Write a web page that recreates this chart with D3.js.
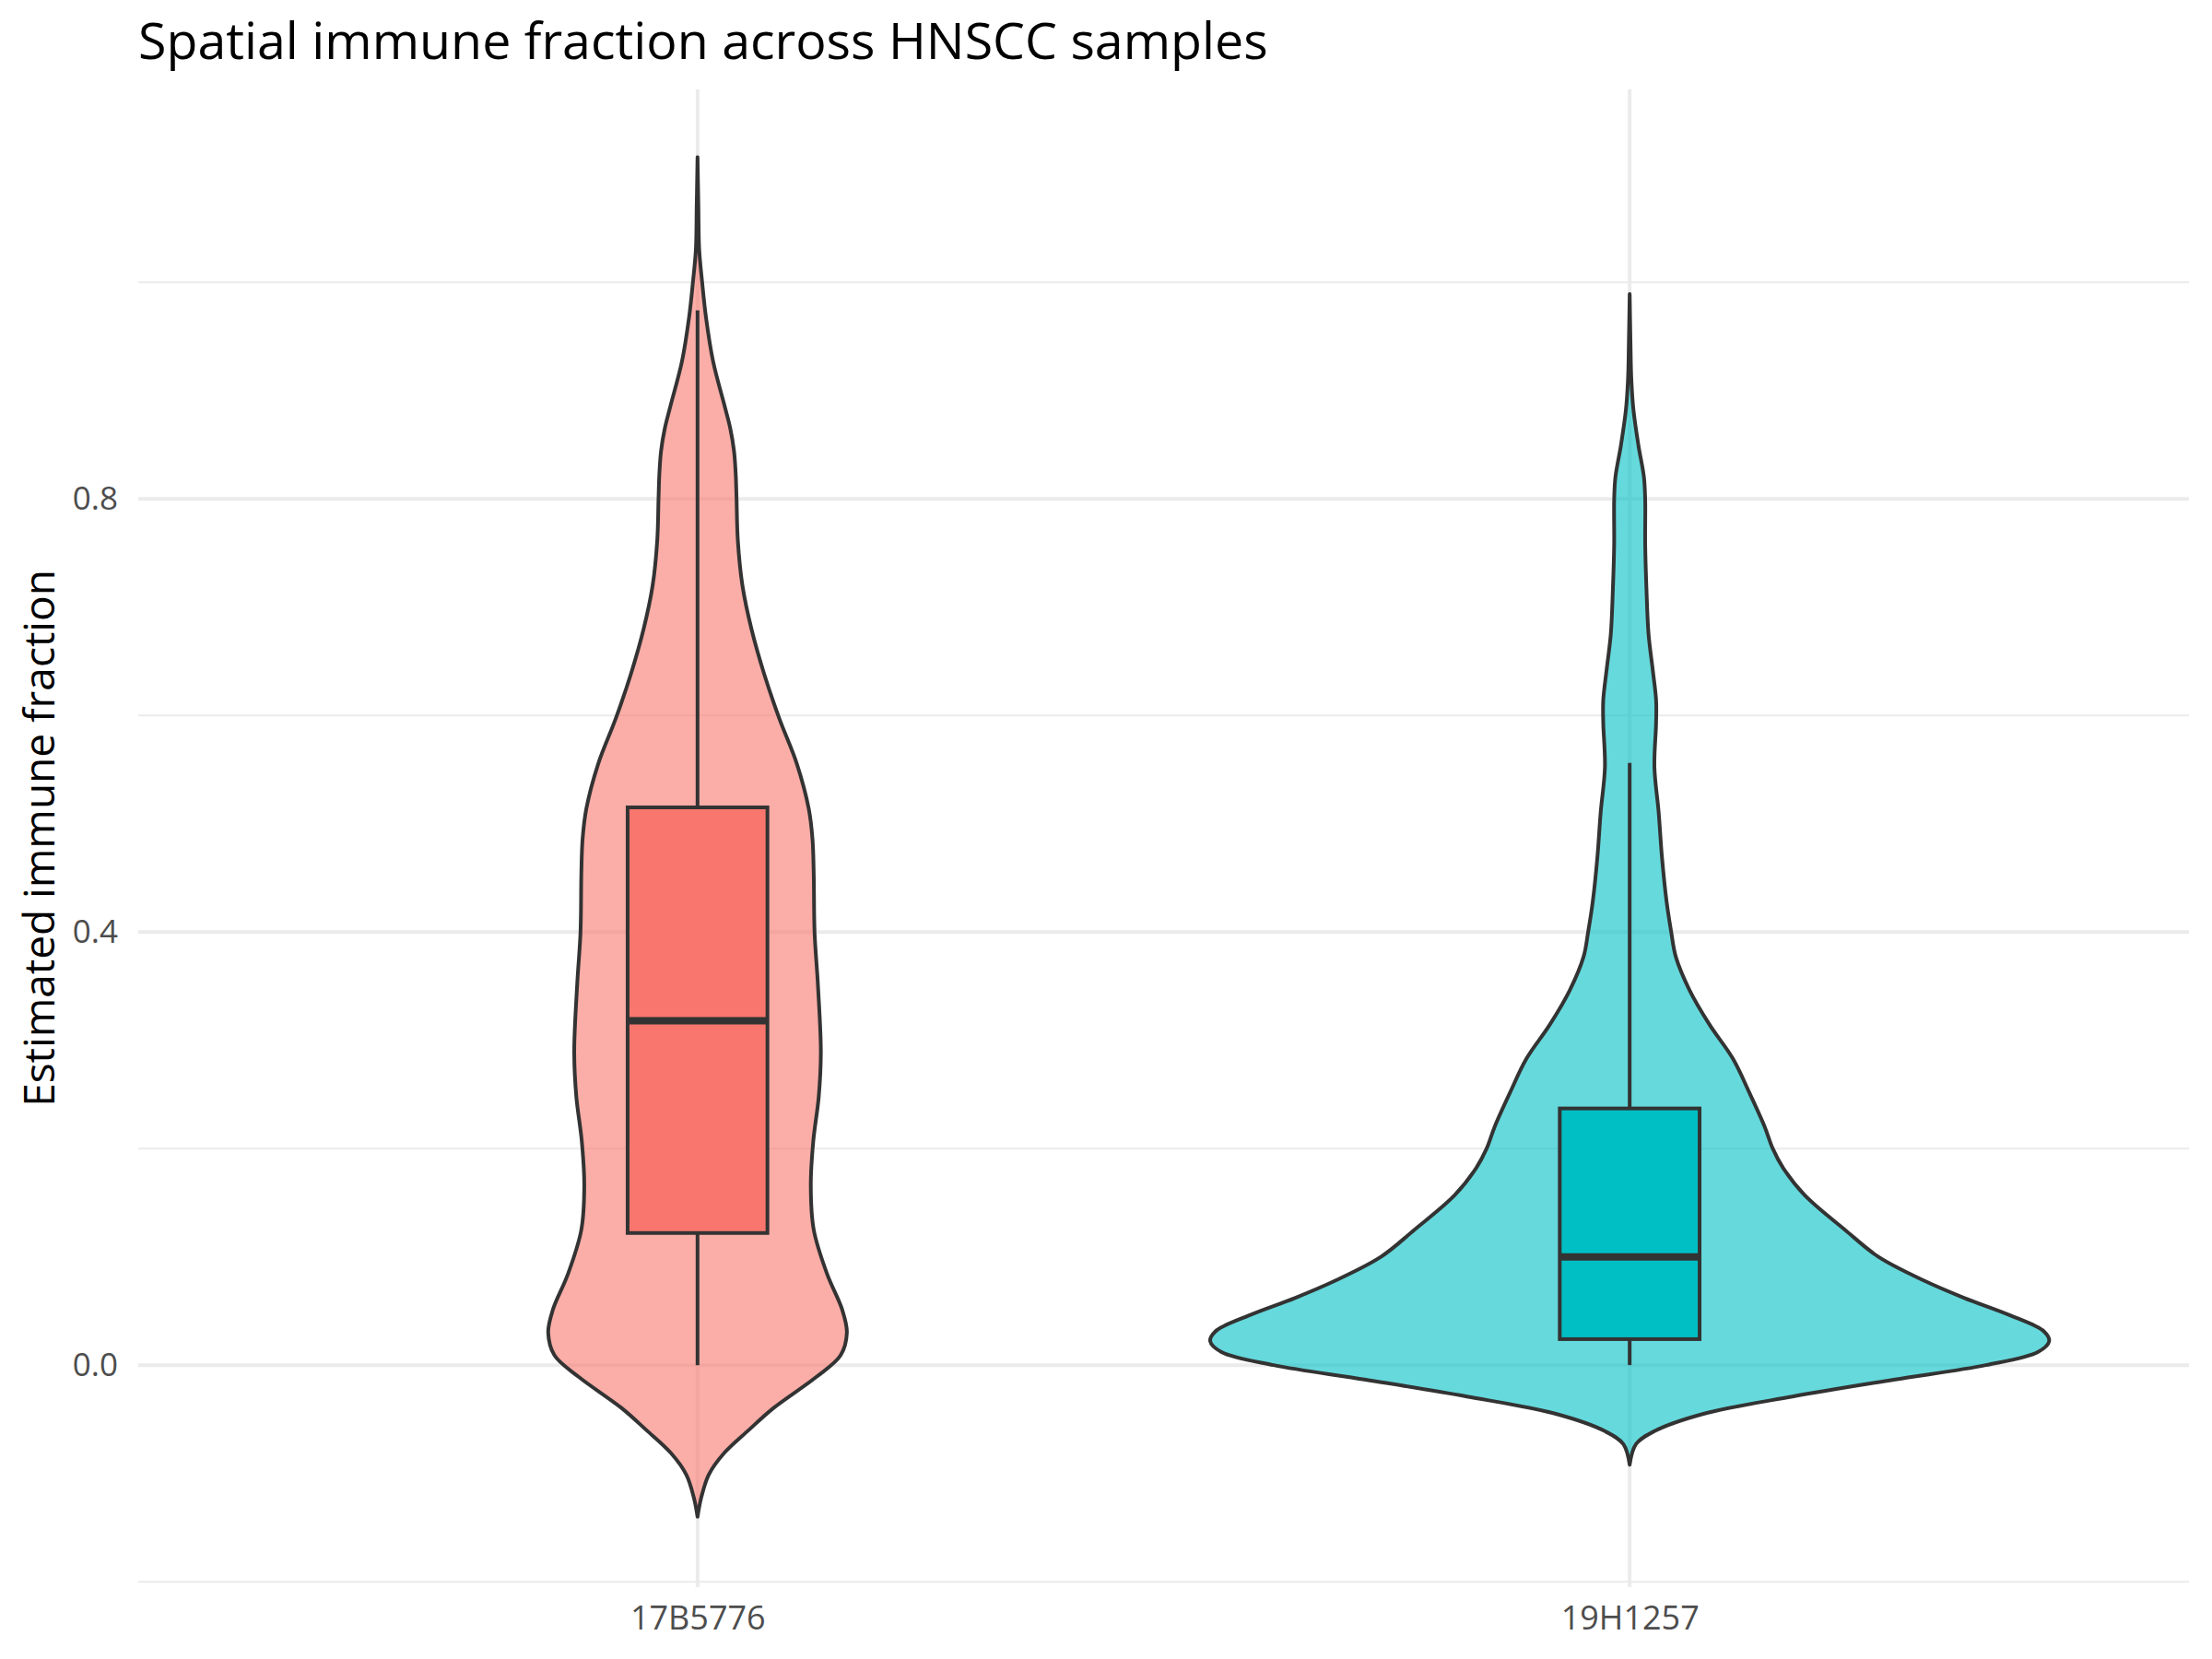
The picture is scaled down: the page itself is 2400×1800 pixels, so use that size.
<!DOCTYPE html>
<html>
<head>
<meta charset="utf-8">
<script src="https://cdn.jsdelivr.net/npm/d3@7"></script>
<style>
  body { margin: 0; background: #fff; }
  text { font-family: "Open Sans", "Noto Sans", sans-serif; }
</style>
</head>
<body>
<script>
// samples and box statistics
const samples = ['17B5776', '19H1257'];
const fills = ['#F8766D', '#00BFC4'];
const whiskerLow = [0.0, 0.0];
const q1 = [0.122, 0.024];
const medians = [0.318, 0.100];
const q3 = [0.515, 0.237];
const whiskerHigh = [0.974, 0.556];

// violin outlines: value and relative density (1 = widest violin)
const violinValues17B = [1.1155, 1.071, 1.030, 1.0, 0.968, 0.927, 0.885, 0.865, 0.844, 0.823, 0.800, 0.762,
  0.720, 0.679, 0.638, 0.597, 0.555, 0.514, 0.486, 0.454, 0.400, 0.351, 0.289, 0.248, 0.207, 0.166,
  0.125, 0.084, 0.051, 0.030, 0.009, -0.011, -0.040, -0.060, -0.081, -0.101, -0.122, -0.140];
const violinDensity17B = [0, 0.002, 0.004, 0.011, 0.020, 0.037, 0.065, 0.078, 0.087, 0.091, 0.093, 0.096,
  0.107, 0.129, 0.159, 0.195, 0.237, 0.265, 0.274, 0.277, 0.279, 0.287, 0.294, 0.289, 0.276, 0.270,
  0.277, 0.309, 0.345, 0.356, 0.341, 0.283, 0.180, 0.122, 0.064, 0.027, 0.009, 0];
const violinValues19H = [0.989, 0.943, 0.910, 0.882, 0.849, 0.820, 0.799, 0.758, 0.717, 0.675, 0.642, 0.614,
  0.593, 0.552, 0.511, 0.469, 0.428, 0.400, 0.377, 0.346, 0.314, 0.283, 0.251, 0.220, 0.200, 0.182,
  0.157, 0.125, 0.100, 0.078, 0.062, 0.046, 0.031, 0.022, 0.012, 0.0, -0.0135, -0.029, -0.045,
  -0.061, -0.073, -0.092];
const violinDensity19H = [0, 0.002, 0.004, 0.009, 0.021, 0.034, 0.037, 0.037, 0.040, 0.045, 0.055, 0.063,
  0.063, 0.059, 0.069, 0.077, 0.088, 0.099, 0.110, 0.143, 0.191, 0.246, 0.286, 0.322, 0.341, 0.366,
  0.417, 0.513, 0.593, 0.702, 0.798, 0.907, 0.988, 1.0, 0.973, 0.849, 0.629, 0.388, 0.176,
  0.059, 0.015, 0];
const violinValues = [violinValues17B, violinValues19H];
const violinDensity = [violinDensity17B, violinDensity19H];

const majorTicks = [0.0, 0.4, 0.8];
const minorTicks = [-0.2, 0.2, 0.6, 1.0];

const W = 2400, H = 1800;
const pLeft = 150, pRight = 2375, pTop = 97, pBottom = 1722;

const svg = d3.select('body').append('svg')
  .attr('width', W)
  .attr('height', H);

const x = d3.scalePoint().domain(samples).range([pLeft, pRight]).padding(0.6);
const y = d3.scaleLinear().domain([-0.205, 1.178]).range([pBottom, pTop]);
const step = x.step();

// grid
svg.append('g').selectAll('line')
  .data(minorTicks).enter().append('line')
  .attr('x1', pLeft).attr('x2', pRight)
  .attr('y1', d => y(d)).attr('y2', d => y(d))
  .attr('stroke', '#EBEBEB').attr('stroke-width', 2);
svg.append('g').selectAll('line')
  .data(majorTicks).enter().append('line')
  .attr('x1', pLeft).attr('x2', pRight)
  .attr('y1', d => y(d)).attr('y2', d => y(d))
  .attr('stroke', '#EBEBEB').attr('stroke-width', 4);
svg.append('g').selectAll('line')
  .data(samples).enter().append('line')
  .attr('x1', d => x(d)).attr('x2', d => x(d))
  .attr('y1', pTop).attr('y2', pBottom)
  .attr('stroke', '#EBEBEB').attr('stroke-width', 4);

// violins
samples.forEach((s, i) => {
  const cx = x(s);
  const pts = violinValues[i].map((v, j) => [v, violinDensity[i][j]]);
  const hw = d => Math.max(0, d[1]) * 0.45 * step;
  const area = d3.area()
    .y(d => y(d[0]))
    .x0(d => cx - hw(d))
    .x1(d => cx + hw(d))
    .curve(d3.curveCatmullRom.alpha(0.5));
  svg.append('path')
    .attr('d', area(pts))
    .attr('fill', fills[i])
    .attr('fill-opacity', 0.6)
    .attr('stroke', '#333333')
    .attr('stroke-width', 4)
    .attr('stroke-linejoin', 'round');
});

// boxplots
const bw = 0.15 * step;
samples.forEach((s, i) => {
  const cx = x(s);
  const g = svg.append('g');
  g.append('line')
    .attr('x1', cx).attr('x2', cx)
    .attr('y1', y(q3[i])).attr('y2', y(whiskerHigh[i]))
    .attr('stroke', '#333333').attr('stroke-width', 4);
  g.append('line')
    .attr('x1', cx).attr('x2', cx)
    .attr('y1', y(q1[i])).attr('y2', y(whiskerLow[i]))
    .attr('stroke', '#333333').attr('stroke-width', 4);
  g.append('rect')
    .attr('x', cx - bw / 2).attr('width', bw)
    .attr('y', y(q3[i])).attr('height', y(q1[i]) - y(q3[i]))
    .attr('fill', fills[i])
    .attr('stroke', '#333333').attr('stroke-width', 4);
  g.append('line')
    .attr('x1', cx - bw / 2).attr('x2', cx + bw / 2)
    .attr('y1', y(medians[i])).attr('y2', y(medians[i]))
    .attr('stroke', '#333333').attr('stroke-width', 8);
});

// axes
const yAxis = d3.axisLeft(y).tickValues(majorTicks).tickSize(0).tickPadding(22)
  .tickFormat(d3.format('.1f'));
const gy = svg.append('g')
  .attr('transform', `translate(${pLeft},0)`)
  .call(yAxis);
gy.select('.domain').remove();
gy.selectAll('text')
  .attr('font-family', '"Open Sans", sans-serif')
  .attr('font-size', 35)
  .attr('fill', '#4D4D4D');

const xAxis = d3.axisBottom(x).tickSize(0).tickPadding(20);
const gx = svg.append('g')
  .attr('transform', `translate(0,${pBottom})`)
  .call(xAxis);
gx.select('.domain').remove();
gx.selectAll('text')
  .attr('font-family', '"Open Sans", sans-serif')
  .attr('font-size', 36)
  .attr('fill', '#4D4D4D');

// labels
svg.append('text')
  .attr('transform', `translate(59,${(pTop + pBottom) / 2}) rotate(-90)`)
  .attr('text-anchor', 'middle')
  .attr('font-size', 46)
  .attr('fill', '#000')
  .text('Estimated immune fraction');

svg.append('text')
  .attr('x', pLeft)
  .attr('y', 64)
  .attr('font-size', 55.5)
  .attr('fill', '#000')
  .text('Spatial immune fraction across HNSCC samples');
</script>
</body>
</html>
